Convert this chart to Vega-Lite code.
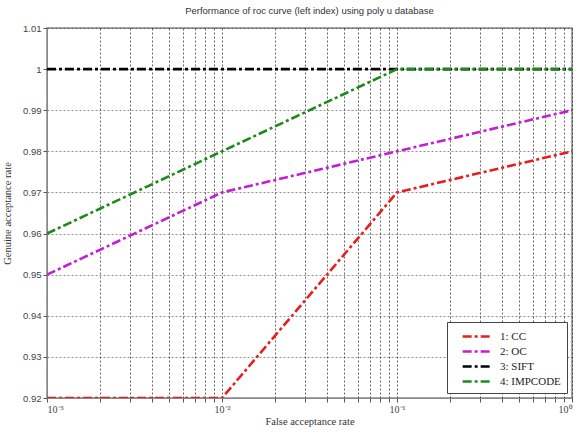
{
  "$schema": "https://vega.github.io/schema/vega-lite/v6.json",
  "width": 525,
  "height": 370,
  "autosize": {"type": "none"},
  "padding": {"left": 47, "top": 28, "right": 5, "bottom": 37},
  "background": "white",
  "title": {
    "text": "Performance of roc curve (left index) using poly u database",
    "font": "Liberation Sans",
    "fontSize": 9.5,
    "fontWeight": "normal",
    "color": "#333333",
    "offset": 8,
    "anchor": "middle"
  },
  "config": {
    "view": {"stroke": "#888888", "strokeWidth": 1.5},
    "axis": {
      "labelFont": "Liberation Sans",
      "labelFontSize": 9.5,
      "labelColor": "#444444",
      "titleFont": "Liberation Serif",
      "titleFontSize": 10.5,
      "titleFontWeight": "normal",
      "titleColor": "#333333",
      "domainColor": "#888888",
      "tickColor": "#555555",
      "tickSize": 4,
      "gridColor": "#000000",
      "gridOpacity": 0.75,
      "gridDash": [2, 2],
      "gridWidth": 0.8
    }
  },
  "data": {
    "values": [
      {"series": "1: CC", "far": 0.001, "gar": 0.92},
      {"series": "1: CC", "far": 0.01, "gar": 0.92},
      {"series": "1: CC", "far": 0.1, "gar": 0.97},
      {"series": "1: CC", "far": 1, "gar": 0.98},
      {"series": "2: OC", "far": 0.001, "gar": 0.95},
      {"series": "2: OC", "far": 0.01, "gar": 0.97},
      {"series": "2: OC", "far": 0.1, "gar": 0.98},
      {"series": "2: OC", "far": 1, "gar": 0.99},
      {"series": "3: SIFT", "far": 0.001, "gar": 1},
      {"series": "3: SIFT", "far": 0.01, "gar": 1},
      {"series": "3: SIFT", "far": 0.1, "gar": 1},
      {"series": "3: SIFT", "far": 1, "gar": 1},
      {"series": "4: IMPCODE", "far": 0.001, "gar": 0.96},
      {"series": "4: IMPCODE", "far": 0.01, "gar": 0.98},
      {"series": "4: IMPCODE", "far": 0.1, "gar": 1},
      {"series": "4: IMPCODE", "far": 1, "gar": 1}
    ]
  },
  "mark": {"type": "line", "strokeWidth": 2.6, "strokeDash": [9, 3, 3, 3], "clip": true},
  "encoding": {
    "x": {
      "field": "far",
      "type": "quantitative",
      "scale": {"type": "log", "domain": [0.001, 1], "nice": false},
      "axis": {
        "title": "False acceptance rate",
        "titlePadding": 2,
        "values": [0.001, 0.002, 0.003, 0.004, 0.005, 0.006, 0.007, 0.008, 0.009, 0.01, 0.02, 0.03, 0.04, 0.05, 0.06, 0.07, 0.08, 0.09, 0.1, 0.2, 0.3, 0.4, 0.5, 0.6, 0.7, 0.8, 0.9, 1],
        "labelExpr": "datum.value == 0.001 ? '10⁻³' : datum.value == 0.01 ? '10⁻²' : datum.value == 0.1 ? '10⁻¹' : datum.value == 1 ? '10⁰' : ''",
        "labelPadding": 2,
        "labelFont": "Liberation Serif",
        "labelFontSize": 10
      }
    },
    "y": {
      "field": "gar",
      "type": "quantitative",
      "scale": {"domain": [0.92, 1.01], "nice": false, "zero": false},
      "axis": {
        "title": "Genuine acceptance rate",
        "titlePadding": 10,
        "values": [0.92, 0.93, 0.94, 0.95, 0.96, 0.97, 0.98, 0.99, 1, 1.01],
        "labelExpr": "format(datum.value, '.2~f')",
        "labelPadding": 2,
        "gridOpacity": 0.55
      }
    },
    "color": {
      "field": "series",
      "type": "nominal",
      "scale": {
        "domain": ["1: CC", "2: OC", "3: SIFT", "4: IMPCODE"],
        "range": ["#e51e1e", "#c21fd2", "#000000", "#1b8a1b"]
      },
      "legend": {
        "title": null,
        "orient": "bottom-right",
        "offset": 5,
        "strokeColor": "#444444",
        "fillColor": "white",
        "padding": 6,
        "rowPadding": 1,
        "symbolType": "M-2.1,0H2.1",
        "symbolSize": 200,
        "symbolFillColor": "transparent",
        "symbolStrokeWidth": 2.6,
        "symbolDash": [9, 3, 3, 3],
        "symbolOffset": 16,
        "labelFont": "Liberation Serif",
        "labelFontSize": 11,
        "labelOffset": 14,
        "labelColor": "#222222"
      }
    }
  }
}
